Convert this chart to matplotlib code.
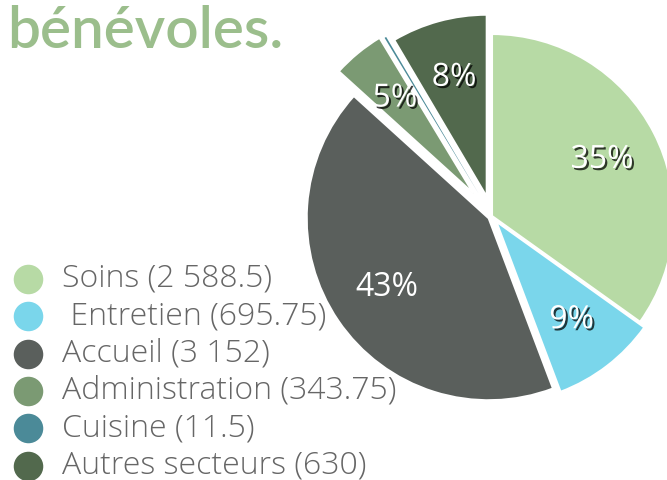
import matplotlib
matplotlib.use('Agg')
import matplotlib.pyplot as plt
import matplotlib.patheffects as pe

# --- data ---
sectors = ['Soins', ' Entretien', 'Accueil', 'Administration', 'Cuisine', 'Autres secteurs']
hours = [2588.5, 695.75, 3152, 343.75, 11.5, 630]
pct_labels = ['35%', '9%', '43%', '5%', '', '8%']   # as printed on the chart
colors = ['#b7daa5', '#7ad6eb', '#5a5f5c', '#7b9a73', '#4b8a98', '#52694d']
title = 'bénévoles.'

# offsets of the exploded wedges (pixels)
explode = [0, 7, 4, 29, 26, 20]

plt.rcParams['font.family'] = ['Lato', 'DejaVu Sans']

W, H = 667, 480
fig = plt.figure(figsize=(W / 100, H / 100), dpi=100)
ax = fig.add_axes([0, 0, 1, 1])

lab_iter = iter(pct_labels)


def pct(p):
    return next(lab_iter)


def fmt(v):
    if float(v).is_integer():
        return f'{int(v):,}'.replace(',', ' ')
    return f'{v:,}'.replace(',', ' ')


wedges, texts, autotexts = ax.pie(
    hours, colors=colors, explode=explode, startangle=90, counterclock=False,
    center=(492, H - 216), radius=182, autopct=pct, pctdistance=0.68,
    wedgeprops=dict(edgecolor='white', linewidth=1.5),
    textprops=dict(color='white', fontsize=23, family=['Open Sans', 'DejaVu Sans']))

# the tiny Cuisine wedge would vanish under a white edge
wedges[4].set_linewidth(0)

for i, t in enumerate(autotexts):
    if sectors[i] != 'Accueil':
        t.set_path_effects([pe.withSimplePatchShadow(offset=(1.5, -1.5),
                                                     shadow_rgbFace='black', alpha=0.75)])

# legend drawn as dots + labels
for i, (name, val, c) in enumerate(zip(sectors, hours, colors)):
    y = H - 279 - i * 37.3
    ax.scatter(28, y, s=410, color=c, zorder=3)
    ax.text(62, y, f'{name} ({fmt(val)})', fontsize=23, color='#666666',
            family=['Open Sans', 'DejaVu Sans'], fontweight='light',
            va='center', ha='left')

ax.text(7, H - 48, title, fontsize=42, fontweight='semibold', color='#9bbe8c',
        va='baseline', ha='left')

ax.set_xlim(0, W)
ax.set_ylim(0, H)
ax.set_aspect('equal')
ax.axis('off')

fig.savefig('out.png', dpi=100)
